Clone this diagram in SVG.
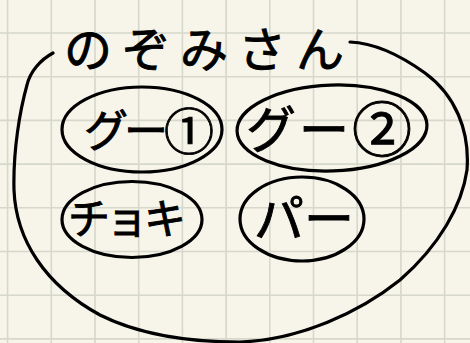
<svg xmlns="http://www.w3.org/2000/svg" width="470" height="343" viewBox="0 0 470 343">
<style>
.bg{fill:#f7f5ea}
.grid{fill:none;stroke:#d5d8ca;stroke-width:1.6}
.ink{fill:none;stroke:#000;stroke-width:3.2;stroke-linecap:round;stroke-linejoin:round}
.t{font-family:"Noto Sans CJK JP","Noto Sans CJK SC",sans-serif;fill:#000;stroke:#000;stroke-width:0.9}
</style>
<rect class="bg" x="0" y="0" width="470" height="343"/>
<path class="grid" d="M7.6 0V343M51.3 0V343M95 0V343M138.7 0V343M182.4 0V343M226.1 0V343M269.8 0V343M313.5 0V343M357.2 0V343M400.9 0V343M444.6 0V343M0 33H470M0 76.7H470M0 120.4H470M0 164.1H470M0 207.8H470M0 251.5H470M0 295.2H470M0 338.9H470"/>
<g id="group-nozomi">
<path class="ink" d="M53 53C40 60 30 72 27 85C20 110 13 150 14 190C16 240 45 285 100 315C140 335 190 342 240 342C300 340 360 312 400 280C440 245 462 205 467 170C470 130 455 95 425 73C400 55 375 43 350 42"/>
<text class="t" x="64" y="67" font-size="48" letter-spacing="10">のぞみさん</text>
</g>
<g id="node-goo1">
<ellipse class="ink" cx="142" cy="129.5" rx="80" ry="42.5"/>
<text class="t" x="84" y="147" font-size="44" letter-spacing="-4">グー<tspan font-size="50" dy="3">①</tspan></text>
</g>
<g id="node-goo2">
<ellipse class="ink" cx="332" cy="128" rx="95" ry="43" transform="rotate(-2 332 128)"/>
<text class="t" x="246" y="148" font-size="50" letter-spacing="3">グー<tspan font-size="60" dy="4">②</tspan></text>
</g>
<g id="node-choki">
<ellipse class="ink" cx="132" cy="219.5" rx="70" ry="38"/>
<text class="t" x="68" y="234" font-size="42" letter-spacing="-4">チョキ</text>
</g>
<g id="node-paa">
<ellipse class="ink" cx="302" cy="219" rx="62" ry="42"/>
<text class="t" x="254" y="237" font-size="50">パー</text>
</g>
</svg>
